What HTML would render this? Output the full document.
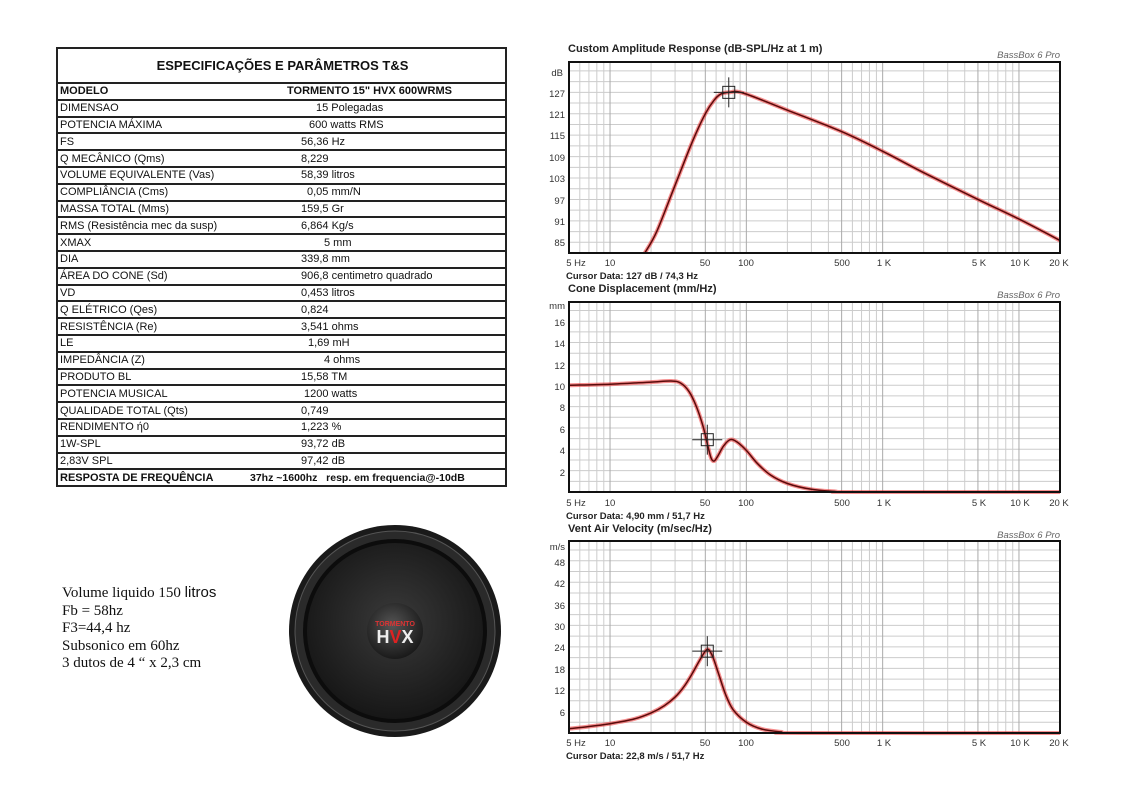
<!DOCTYPE html>
<html><head><meta charset="utf-8"><style>
body{margin:0;background:#fff;width:1126px;height:810px;overflow:hidden;position:relative;font-family:"Liberation Sans",Arial,sans-serif}
table{position:absolute;left:56px;top:47px;width:451px;border-collapse:collapse;border:2px solid #222}
td{border-top:2px solid #222;height:14.8px;padding:0 0 0 2px;font-size:11px;line-height:14px;color:#111;white-space:nowrap}
td.t{height:33px;text-align:center;font-weight:bold;font-size:13px;border-top:none}
td.v{padding-left:0}
.note{position:absolute;left:62px;top:584px;font-family:"Liberation Serif",serif;font-size:15px;line-height:17.5px;color:#111}
svg{position:absolute;left:0;top:0}
</style></head><body>
<table>
<tr><td class="t" colspan="2">ESPECIFICAÇÕES E PARÂMETROS T&amp;S</td></tr>
<tr><td style="width:185px"><b>MODELO</b></td><td class="v"><b style="padding-left:42px">TORMENTO 15" HVX 600WRMS</b></td></tr>
<tr><td>DIMENSAO</td><td class="v" style="padding-left:71px">15 Polegadas</td></tr>
<tr><td>POTENCIA MÁXIMA</td><td class="v" style="padding-left:64px">600 watts RMS</td></tr>
<tr><td>FS</td><td class="v" style="padding-left:56px">56,36 Hz</td></tr>
<tr><td>Q MECÂNICO (Qms)</td><td class="v" style="padding-left:56px">8,229</td></tr>
<tr><td>VOLUME EQUIVALENTE (Vas)</td><td class="v" style="padding-left:56px">58,39 litros</td></tr>
<tr><td>COMPLIÂNCIA (Cms)</td><td class="v" style="padding-left:62px">0,05 mm/N</td></tr>
<tr><td>MASSA TOTAL (Mms)</td><td class="v" style="padding-left:56px">159,5 Gr</td></tr>
<tr><td>RMS (Resistência mec da susp)</td><td class="v" style="padding-left:56px">6,864 Kg/s</td></tr>
<tr><td>XMAX</td><td class="v" style="padding-left:79px">5 mm</td></tr>
<tr><td>DIA</td><td class="v" style="padding-left:56px">339,8 mm</td></tr>
<tr><td>ÁREA DO CONE (Sd)</td><td class="v" style="padding-left:56px">906,8 centimetro quadrado</td></tr>
<tr><td>VD</td><td class="v" style="padding-left:56px">0,453 litros</td></tr>
<tr><td>Q ELÉTRICO (Qes)</td><td class="v" style="padding-left:56px">0,824</td></tr>
<tr><td>RESISTÊNCIA (Re)</td><td class="v" style="padding-left:56px">3,541 ohms</td></tr>
<tr><td>LE</td><td class="v" style="padding-left:63px">1,69 mH</td></tr>
<tr><td>IMPEDÂNCIA (Z)</td><td class="v" style="padding-left:79px">4 ohms</td></tr>
<tr><td>PRODUTO BL</td><td class="v" style="padding-left:56px">15,58 TM</td></tr>
<tr><td>POTENCIA MUSICAL</td><td class="v" style="padding-left:59px">1200 watts</td></tr>
<tr><td>QUALIDADE TOTAL (Qts)</td><td class="v" style="padding-left:56px">0,749</td></tr>
<tr><td>RENDIMENTO ή0</td><td class="v" style="padding-left:56px">1,223 %</td></tr>
<tr><td>1W-SPL</td><td class="v" style="padding-left:56px">93,72 dB</td></tr>
<tr><td>2,83V SPL</td><td class="v" style="padding-left:56px">97,42 dB</td></tr>
<tr><td><b>RESPOSTA DE FREQUÊNCIA</b></td><td class="v" style="font-size:10.5px"><b style="padding-left:5px">37hz ~1600hz &nbsp; resp. em frequencia@-10dB</b></td></tr>
</table>
<div class="note">Volume liquido 150 <span style="font-family:'Liberation Sans',sans-serif">litros</span><br>Fb = 58hz<br>F3=44,4 hz<br>Subsonico em 60hz<br>3 dutos de 4 “ x 2,3 cm</div>

<svg width="1126" height="810" xmlns="http://www.w3.org/2000/svg" font-family="Liberation Sans, Arial, sans-serif">
<defs><radialGradient id="cone" cx="50%" cy="45%" r="55%"><stop offset="0" stop-color="#3a3a3a"/><stop offset="1" stop-color="#161616"/></radialGradient>
<radialGradient id="cap" cx="45%" cy="40%" r="60%"><stop offset="0" stop-color="#555"/><stop offset="1" stop-color="#1a1a1a"/></radialGradient></defs>
<circle cx="395" cy="631" r="106" fill="#1a1a1a"/>
<circle cx="395" cy="631" r="100" fill="#2a2a2a" stroke="#555" stroke-width="1"/>
<circle cx="395" cy="631" r="90" fill="url(#cone)" stroke="#0c0c0c" stroke-width="4"/>
<circle cx="395" cy="631" r="28" fill="url(#cap)"/>
<text x="395" y="626" text-anchor="middle" font-size="7" font-weight="bold" fill="#d33">TORMENTO</text>
<text x="395" y="643" text-anchor="middle" font-size="18" font-weight="bold" fill="#eee">H<tspan fill="#d22">V</tspan>X</text>

<g id="g"></g>
<g font-size="11" font-weight="bold" fill="#222">
<text x="568" y="52">Custom Amplitude Response (dB-SPL/Hz at 1 m)</text>
<text x="568" y="292">Cone Displacement (mm/Hz)</text>
<text x="568" y="532">Vent Air Velocity (m/sec/Hz)</text>
<text x="566" y="279" font-size="9.5">Cursor Data:  127 dB / 74,3 Hz</text>
<text x="566" y="519" font-size="9.5">Cursor Data:  4,90 mm / 51,7 Hz</text>
<text x="566" y="759" font-size="9.5">Cursor Data:  22,8 m/s / 51,7 Hz</text>
</g>
<g font-size="9.5" font-style="italic" fill="#666" text-anchor="end">
<text x="1060" y="58">BassBox 6 Pro</text><text x="1060" y="298">BassBox 6 Pro</text><text x="1060" y="538">BassBox 6 Pro</text>
</g>
<g font-size="9.5" fill="#333" text-anchor="end">
<text x="563" y="76">dB</text><text x="565" y="97">127</text><text x="565" y="118">121</text><text x="565" y="139">115</text><text x="565" y="161">109</text><text x="565" y="182">103</text><text x="565" y="204">97</text><text x="565" y="225">91</text><text x="565" y="246">85</text>
<text x="565" y="309">mm</text><text x="565" y="326">16</text><text x="565" y="347">14</text><text x="565" y="369">12</text><text x="565" y="390">10</text><text x="565" y="411">8</text><text x="565" y="433">6</text><text x="565" y="454">4</text><text x="565" y="476">2</text>
<text x="565" y="550">m/s</text><text x="565" y="566">48</text><text x="565" y="587">42</text><text x="565" y="609">36</text><text x="565" y="630">30</text><text x="565" y="651">24</text><text x="565" y="673">18</text><text x="565" y="694">12</text><text x="565" y="716">6</text>
</g>
<g font-size="9.5" fill="#333" text-anchor="middle">
<g transform="translate(0,266)"><text x="576">5 Hz</text><text x="610">10</text><text x="705">50</text><text x="746">100</text><text x="842">500</text><text x="884">1 K</text><text x="979">5 K</text><text x="1020">10 K</text><text x="1059">20 K</text></g>
<g transform="translate(0,506)"><text x="576">5 Hz</text><text x="610">10</text><text x="705">50</text><text x="746">100</text><text x="842">500</text><text x="884">1 K</text><text x="979">5 K</text><text x="1020">10 K</text><text x="1059">20 K</text></g>
<g transform="translate(0,746)"><text x="576">5 Hz</text><text x="610">10</text><text x="705">50</text><text x="746">100</text><text x="842">500</text><text x="884">1 K</text><text x="979">5 K</text><text x="1020">10 K</text><text x="1059">20 K</text></g>
</g>
</svg>
<script>
var NS="http://www.w3.org/2000/svg",G=document.getElementById("g");
function el(t,a){var e=document.createElementNS(NS,t);for(var k in a)e.setAttribute(k,a[k]);G.appendChild(e);return e;}
var X0=569,X1=1060;
function fx(f){return X0+(Math.log10(f)-Math.log10(5))*(X1-X0)/Math.log10(4000);}
function smooth(P){var d="M"+P[0][0].toFixed(1)+","+P[0][1].toFixed(1);
  for(var i=0;i<P.length-1;i++){var p0=P[i-1]||P[i],p1=P[i],p2=P[i+1],p3=P[i+2]||p2;
    var c1=[p1[0]+(p2[0]-p0[0])/6,p1[1]+(p2[1]-p0[1])/6],c2=[p2[0]-(p3[0]-p1[0])/6,p2[1]-(p3[1]-p1[1])/6];
    d+=" C"+c1[0].toFixed(1)+","+c1[1].toFixed(1)+" "+c2[0].toFixed(1)+","+c2[1].toFixed(1)+" "+p2[0].toFixed(1)+","+p2[1].toFixed(1);}
  return d;}
function plot(top,bot,vmin,vmax,step,data,cur){
  var fy=function(v){return bot-(v-vmin)*(bot-top)/(vmax-vmin);};
  el("rect",{x:X0,y:top,width:X1-X0,height:bot-top,fill:"#fff"});
  for(var v=vmin+step;v<vmax;v+=step){var y=fy(v);el("line",{x1:X0,x2:X1,y1:y,y2:y,stroke:"#ccc","stroke-width":1});}
  for(var d=1;d<=10000;d*=10)for(var m=1;m<10;m++){var f=d*m;if(f<=5||f>=20000)continue;var x=fx(f);
    el("line",{x1:x,x2:x,y1:top,y2:bot,stroke:(m==1||m==5)?"#aaa":"#ccc","stroke-width":1});}
  var P=[];for(var i=0;i<data.length;i++){var y=fy(data[i][1]);if(y>bot)y=bot;P.push([fx(data[i][0]),y]);}
  var p=smooth(P);
  el("path",{d:p,fill:"none",stroke:"#e33","stroke-width":4,"stroke-opacity":0.55,"stroke-linejoin":"round"});
  el("path",{d:p,fill:"none",stroke:"#5a0a0a","stroke-width":1.5,"stroke-linejoin":"round"});
  var cx=fx(cur[0]),cy=fy(cur[1]);
  el("rect",{x:cx-6,y:cy-6,width:12,height:12,fill:"none",stroke:"#222","stroke-width":1});
  el("line",{x1:cx-15,x2:cx+15,y1:cy,y2:cy,stroke:"#222"});el("line",{x1:cx,x2:cx,y1:cy-15,y2:cy+15,stroke:"#222"});
  el("rect",{x:X0,y:top,width:X1-X0,height:bot-top,fill:"none",stroke:"#111","stroke-width":2});
}
plot(62,253,82,135.5,3,[[18,82],[22,88],[30,101],[40,113],[50,121],[58,124.8],[65,126.5],[75,127],[95,126.8],[200,122],[500,116],[1000,110.5],[2000,104.5],[5000,97],[10000,91.5],[20000,85.5]],[74.3,127]);
plot(302,492,0,17.8,1,[[5,10],[10,10.1],[20,10.3],[28,10.4],[33,10.2],[38,9.4],[43,8],[48,6.2],[52,4.4],[55,3.2],[58,2.9],[62,3.4],[68,4.3],[76,4.9],[85,4.7],[100,3.9],[120,2.7],[150,1.6],[200,0.8],[300,0.25],[450,0.05],[600,0],[20000,0]],[51.7,4.9]);
plot(541,733,0,53.5,3,[[5,1.2],[7,1.8],[10,2.6],[15,3.9],[20,5.6],[25,7.6],[30,10],[35,13],[40,16.5],[45,20],[50,22.8],[53,23.2],[57,21],[62,17],[70,11],[80,6.5],[100,3],[130,1.1],[180,0.3],[250,0],[20000,0]],[51.7,22.8]);
</script>
</body></html>
